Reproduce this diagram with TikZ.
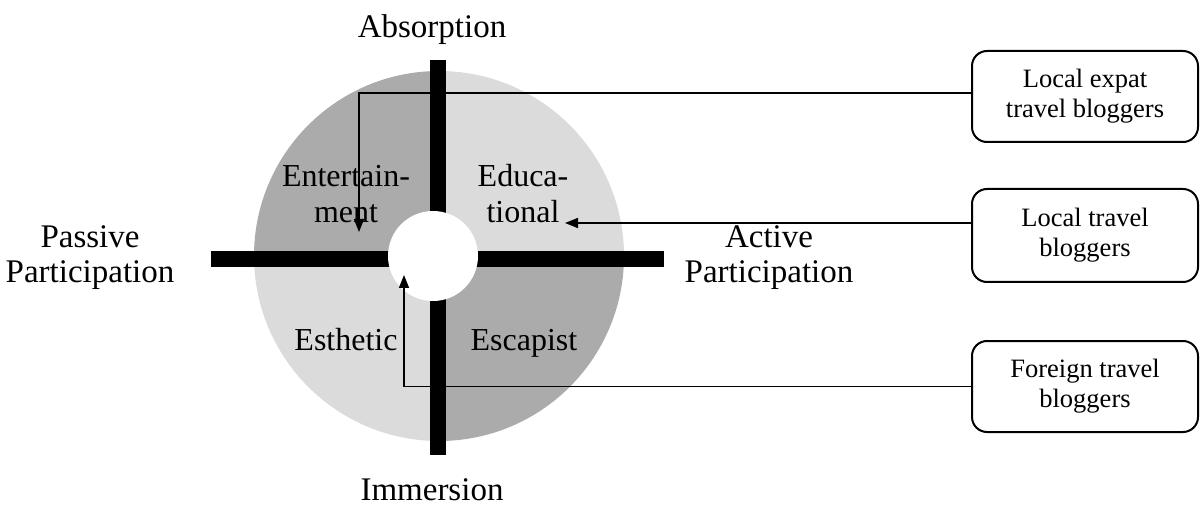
\documentclass[tikz,border=0pt]{standalone}
\usepackage{fontspec}
\setmainfont{Liberation Serif}
\usetikzlibrary{arrows.meta}
\definecolor{qdark}{gray}{0.67}
\definecolor{qlight}{gray}{0.86}
\begin{document}
\begin{tikzpicture}[x=1pt,y=-1pt,
  mainlbl/.style={font=\fontsize{33}{35}\selectfont, align=center, inner sep=0pt},
  quadlbl/.style={font=\fontsize{32}{36}\selectfont, align=center, inner sep=0pt},
  bloggerbox/.style={draw, line width=2pt, rounded corners=15pt, minimum width=226pt,
     font=\fontsize{26.5}{30}\selectfont, align=center, inner sep=0pt},
  bar/.style={fill=black},
  arr/.style={line width=1.5pt, -{Triangle[length=13pt,width=10pt]}}]
\useasboundingbox (0,0) rectangle (1200,505);
% disk quadrants
\begin{scope}
  \clip (439,256) circle[radius=185pt];
  \fill[qdark]  (200,50)  rectangle (438,259);
  \fill[qlight] (438,50)  rectangle (700,259);
  \fill[qlight] (200,259) rectangle (438,470);
  \fill[qdark]  (438,259) rectangle (700,470);
\end{scope}
% axes bars
\fill[bar] (430,60) rectangle (446,455);
\fill[bar] (211,251) rectangle (664,267);
\fill[white] (433,256) circle[radius=45pt];
% axis labels
\node[mainlbl, anchor=base] (absorp) at (432,38) {Absorption};
\node[mainlbl, anchor=base] (immers) at (432,500) {Immersion};
\node[mainlbl] (passive) at (90,258) {Passive\\Participation};
\node[mainlbl] (active) at (769,258) {Active\\Participation};
% quadrant labels
\node[quadlbl] (entert) at (346,194) {Entertain-\\ment};
\node[quadlbl] (educ) at (523,194) {Educa-\\tional};
\node[quadlbl, anchor=base] (esth) at (346,350) {Esthetic};
\node[quadlbl, anchor=base] (escap) at (524,350) {Escapist};
% blogger boxes
\node[bloggerbox, minimum height=91pt] (b1) at (1085,96.5) {Local expat\\travel bloggers};
\node[bloggerbox, minimum height=93pt] (b2) at (1085,235.5) {Local travel\\bloggers};
\node[bloggerbox, minimum height=91pt] (b3) at (1085,386.5) {Foreign travel\\bloggers};
% connector points
\coordinate (c1) at (359,93);
\coordinate (t1) at (359,232);
\coordinate (t2) at (565,223);
\coordinate (t3) at (404,275);
\draw[arr] (b1.west |- c1) -- (c1) -- (t1);
\draw[arr] (b2.west |- t2) -- (t2);
\draw[arr] (b3.west) -| (t3);
\end{tikzpicture}
\end{document}
